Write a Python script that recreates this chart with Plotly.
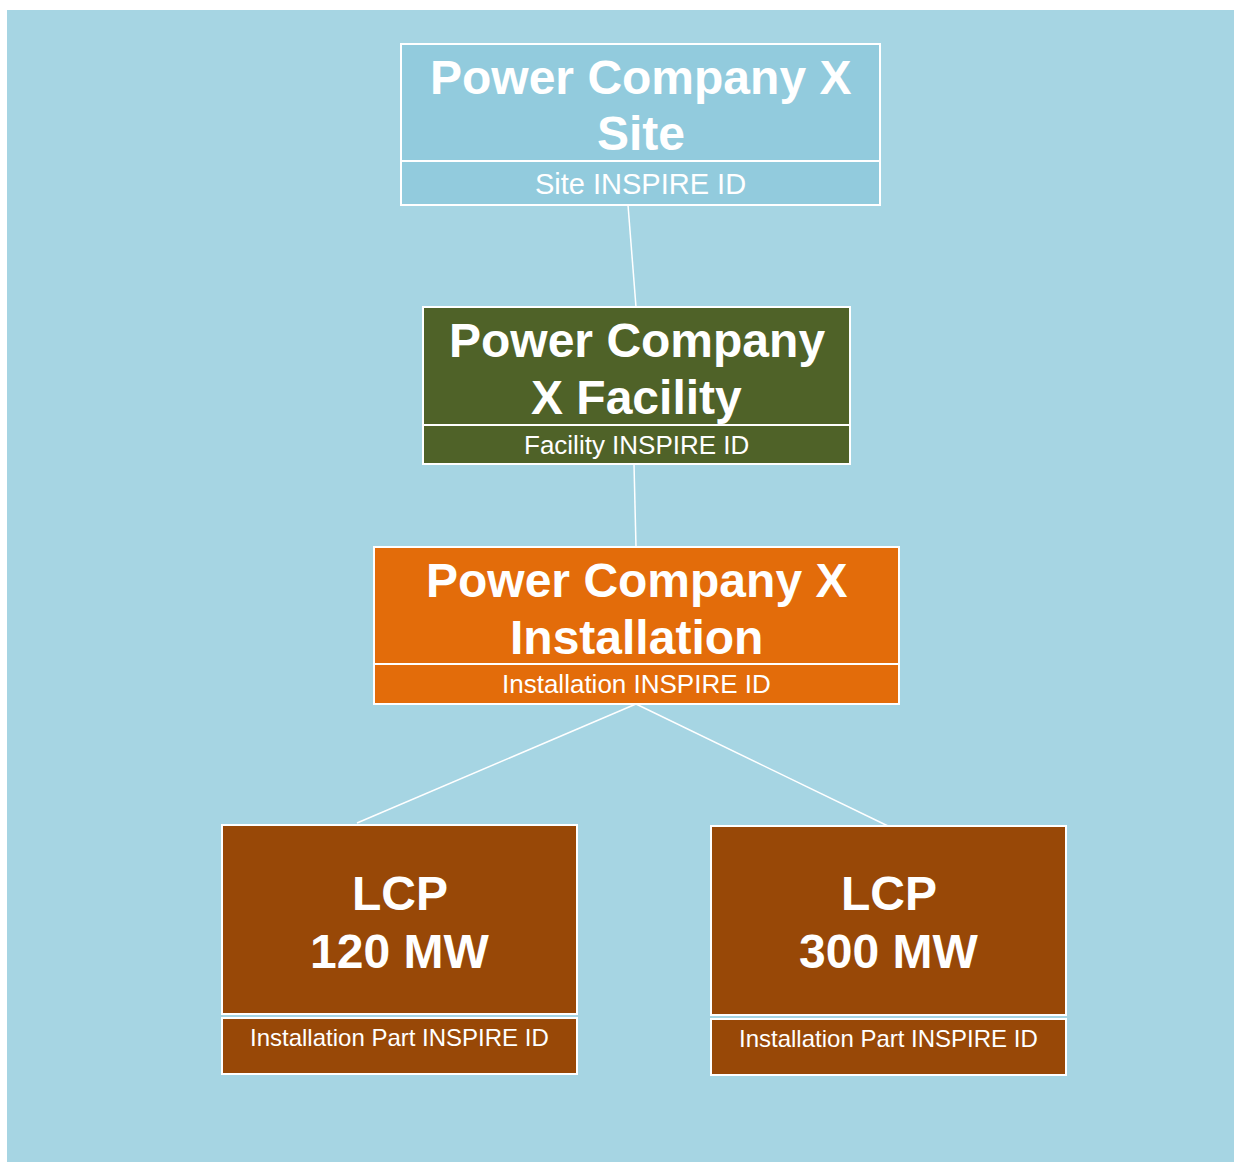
import plotly.graph_objects as go

# ---- data ----
node_titles = [
    ["Power Company X", "Site"],
    ["Power Company", "X Facility"],
    ["Power Company X", "Installation"],
    ["LCP", "120 MW"],
    ["LCP", "300 MW"],
]
node_ids = [
    "Site INSPIRE ID",
    "Facility INSPIRE ID",
    "Installation INSPIRE ID",
    "Installation Part INSPIRE ID",
    "Installation Part INSPIRE ID",
]
node_colors = ["#92CBDD", "#4F6228", "#E36C0A", "#984807", "#984807"]
edges = [(0, 1), (1, 2), (2, 3), (2, 4)]

# ---- layout geometry (pixels) ----
# x0, x1, top, divider(main bottom), sub top, bottom
boxes = [
    (401, 880, 44, 161, 161, 205),
    (423, 850, 307, 425, 425, 464),
    (374, 899, 547, 664, 664, 704),
    (222, 577, 825, 1014, 1018, 1074),
    (711, 1066, 826, 1015, 1019, 1075),
]
title_line_y = [(77, 133), (340, 397), (580, 637), (893, 951), (893, 951)]
id_font = [29, 26, 26, 24, 24]
id_offset = [1, 0, 0, -9, -9]
# connector endpoints (from bottom of parent to top of child)
edge_pts = [((628, 205), (636, 307)), ((634, 464), (636, 547)),
            ((636, 704), (357, 823)), ((636, 704), (888, 826))]

BG = "#A6D5E3"
FONT = "Liberation Sans, Arial, sans-serif"

fig = go.Figure()
shapes = []
shapes.append(dict(type="rect", xref="x", yref="y", x0=7, x1=1234, y0=10, y1=1162,
                   fillcolor=BG, line=dict(width=0), layer="below"))

for (a, b), ((xa, ya), (xb, yb)) in zip(edges, edge_pts):
    fig.add_trace(go.Scatter(x=[xa, xb], y=[ya, yb], mode="lines",
                             line=dict(color="white", width=1.5),
                             hoverinfo="skip", showlegend=False))

annotations = []
for i, (x0, x1, top, div, subtop, bot) in enumerate(boxes):
    shapes.append(dict(type="rect", xref="x", yref="y", x0=x0, x1=x1, y0=top, y1=div,
                       fillcolor=node_colors[i], line=dict(color="white", width=2)))
    shapes.append(dict(type="rect", xref="x", yref="y", x0=x0, x1=x1, y0=subtop, y1=bot,
                       fillcolor=node_colors[i], line=dict(color="white", width=2)))
    xc = (x0 + x1) / 2
    for line_txt, ly in zip(node_titles[i], title_line_y[i]):
        annotations.append(dict(x=xc, y=ly, xref="x", yref="y", text="<b>" + line_txt + "</b>",
                                showarrow=False, xanchor="center", yanchor="middle",
                                font=dict(family=FONT, size=48, color="white")))
    annotations.append(dict(x=xc, y=(subtop + bot) / 2 + id_offset[i], xref="x", yref="y",
                            text=node_ids[i], showarrow=False, xanchor="center", yanchor="middle",
                            font=dict(family=FONT, size=id_font[i], color="white")))

fig.update_layout(
    width=1234, height=1162,
    margin=dict(l=0, r=0, t=0, b=0),
    paper_bgcolor="white", plot_bgcolor="white",
    xaxis=dict(range=[0, 1234], visible=False, fixedrange=True),
    yaxis=dict(range=[1162, 0], visible=False, fixedrange=True),
    shapes=shapes, annotations=annotations,
    showlegend=False,
)
fig.write_html("out.html", config={"displayModeBar": False},
               post_script="document.body.style.margin='0';document.body.style.overflow='hidden';")
